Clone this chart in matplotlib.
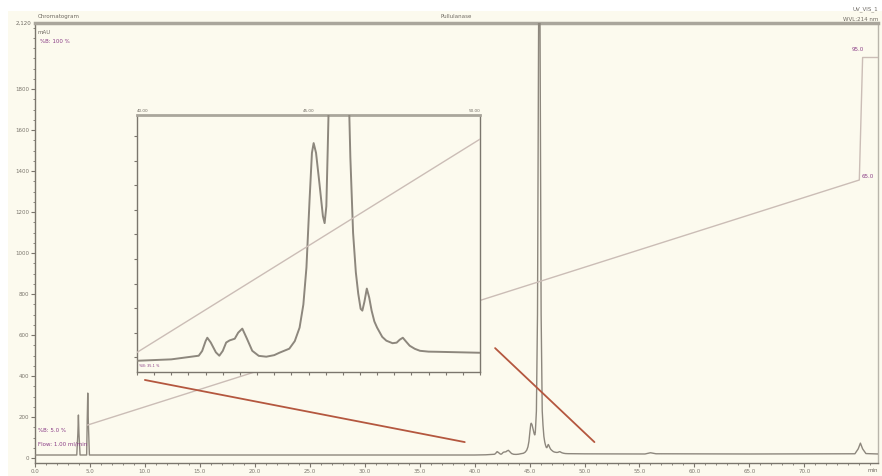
import matplotlib
matplotlib.use("Agg")
import matplotlib.pyplot as plt
import matplotlib.patches as patches
from matplotlib.patches import ConnectionPatch
from matplotlib.ticker import MultipleLocator, FuncFormatter

# --- data ---
time_min = [0.0, 3.8, 3.9, 3.95, 4.0, 4.1, 4.7, 4.75, 4.8, 4.85, 4.95,
            10.0, 20.0, 30.0, 40.0, 41.0, 41.8, 41.9, 42.0, 42.05, 42.15,
            42.3, 42.4, 42.5, 42.6, 42.7, 42.85, 42.95, 43.07, 43.2, 43.36,
            43.55, 43.77, 44.0, 44.15, 44.44, 44.6, 44.74, 44.85, 44.94,
            45.03, 45.1, 45.15, 45.22, 45.32, 45.42, 45.47, 45.52, 45.56,
            45.62, 45.72, 45.82, 45.88, 45.95, 46.05, 46.15, 46.22, 46.3,
            46.38, 46.45, 46.52, 46.57, 46.63, 46.7, 46.77, 46.84, 46.92,
            47.0, 47.15, 47.27, 47.45, 47.57, 47.66, 47.75, 47.85, 47.95,
            48.1, 48.25, 48.5, 48.74, 50.0, 55.5, 56.0, 56.5, 65.0, 74.6,
            74.9, 75.1, 75.3, 75.6, 76.7]
signal_mau = [15, 15, 120, 210, 120, 15, 15, 180, 317, 180, 15,
              15, 15, 15, 15, 16, 18.6, 22, 29, 31.4, 28,
              21, 18.6, 22, 28, 29.5, 30.7, 35, 37.9, 31, 22.1,
              18.5, 17.9, 19, 20.7, 23.6, 29, 38.6, 55, 81.4,
              129, 163, 170, 163, 141, 118, 113, 125, 165,
              230, 700, 2100, 2600, 2100, 700, 230, 160, 106,
              78, 62.8, 52, 50.7, 57, 66.4, 60, 50.7, 43,
              38.6, 32, 29.3, 27.5, 27.9, 30, 31.4, 28.5, 25.7,
              23.5, 22.1, 21.5, 21.4, 20.7, 20, 26, 21, 20, 21,
              45, 73, 45, 22, 20]

grad_time = [4.8, 75.0, 75.3, 76.7]
grad_pct_b = [5, 65, 95, 95]

x_ticks = [0, 5, 10, 15, 20, 25, 30, 35, 40, 45, 50, 55, 60, 65, 70]
y_ticks = [0, 200, 400, 600, 800, 1000, 1200, 1400, 1600, 1800]
zoom_range = [40.0, 50.0]

BG = "#fcfaee"
TRACE = "#8d877d"
AXC = "#7b766d"
GRAD = "#cbbdb6"
RED = "#b4573f"
PURPLE = "#8a3d86"

W, H = 882, 476
fig = plt.figure(figsize=(W / 100, H / 100), dpi=100, facecolor="white")
fig.add_artist(patches.Rectangle((8 / W, 0), 1, 1 - 11 / H, transform=fig.transFigure,
                                 facecolor=BG, edgecolor="none", zorder=-10))


def px_box(l, t, r, b):
    return [l / W, 1 - b / H, (r - l) / W, (b - t) / H]


# --- main chromatogram ---
ax = fig.add_axes(px_box(35, 23, 878, 463))
ax.set_facecolor(BG)
ax.plot(time_min, signal_mau, color=TRACE, lw=1.0, zorder=3)
ax.set_xlim(0, 76.7)
ax.set_ylim(-24, 2122)
ax.set_xticks(x_ticks)
ax.xaxis.set_minor_locator(MultipleLocator(1))
ax.set_yticks(y_ticks)
ax.yaxis.set_minor_locator(MultipleLocator(50))
ax.xaxis.set_major_formatter(FuncFormatter(lambda v, p: f"{v:.1f}"))
ax.tick_params(axis="both", colors=AXC, labelsize=4, length=3, width=0.8, pad=1)
ax.tick_params(which="minor", colors=AXC, length=1.5, width=0.6)
for s in ["left", "bottom"]:
    ax.spines[s].set_color(AXC)
    ax.spines[s].set_linewidth(1.0)
ax.spines["top"].set_color("#aaa69c")
ax.spines["top"].set_linewidth(2.5)
ax.spines["right"].set_color("#b9b5ab")
ax.spines["right"].set_linewidth(1.0)

# gradient (%B) on its own scale
axg = ax.twinx()
axg.plot(grad_time, grad_pct_b, color=GRAD, lw=1.0)
axg.set_ylim(-4.31, 103.45)
axg.set_xlim(ax.get_xlim())
axg.axis("off")

# header texts
ax.text(0.003, 1.012, "Chromatogram", transform=ax.transAxes, fontsize=4, color="#6f6a62")
ax.text(-0.004, 1.0, "2,120", transform=ax.transAxes, fontsize=4, color="#6f6a62",
        ha="right", va="center")
ax.text(0.003, 0.985, "mAU", transform=ax.transAxes, fontsize=4, color="#6f6a62", va="top")
ax.text(0.5, 1.012, "Pullulanase", transform=ax.transAxes, fontsize=4, color="#6f6a62",
        ha="center")
ax.text(1.0, 1.028, "UV_VIS_1", transform=ax.transAxes, fontsize=4, color="#6f6a62",
        ha="right")
ax.text(1.0, 1.005, "WVL:214 nm", transform=ax.transAxes, fontsize=4, color="#6f6a62",
        ha="right")
ax.text(0.006, 0.955, "%B: 100 %", transform=ax.transAxes, fontsize=4, color=PURPLE)
ax.text(0.004, 0.07, "%B: 5.0 %", transform=ax.transAxes, fontsize=4, color=PURPLE)
ax.text(0.004, 0.04, "Flow: 1.00 ml/min", transform=ax.transAxes, fontsize=4, color=PURPLE)
axg.text(74.3, 96.5, "95.0", fontsize=4, color=PURPLE)
axg.text(75.2, 65.5, "65.0", fontsize=4, color=PURPLE)
ax.text(1.0, -0.012, "min", transform=ax.transAxes, fontsize=4, color="#6f6a62",
        ha="right", va="top")

# --- zoomed inset ---
axi = fig.add_axes(px_box(137, 115, 480, 372))
axi.set_zorder(5)
axi.set_facecolor(BG)
axi.plot(time_min, signal_mau, color=TRACE, lw=1.4, zorder=3)
axi.set_xlim(zoom_range)
axi.set_ylim(7, 190)
axi.xaxis.set_major_locator(MultipleLocator(0.5))
axi.yaxis.set_major_locator(MultipleLocator(17.5))
axi.tick_params(axis="both", colors=AXC, labelbottom=False, labelleft=False,
                length=2.5, width=0.8)
for s in ["left", "bottom", "right"]:
    axi.spines[s].set_color(AXC)
    axi.spines[s].set_linewidth(1.0)
axi.spines["top"].set_color("#aaa69c")
axi.spines["top"].set_linewidth(2.0)
axi.text(0.0, 1.01, "40.00", transform=axi.transAxes, fontsize=3, color="#6f6a62")
axi.text(0.5, 1.01, "45.00", transform=axi.transAxes, fontsize=3, color="#6f6a62", ha="center")
axi.text(1.0, 1.01, "50.00", transform=axi.transAxes, fontsize=3, color="#6f6a62", ha="right")
axi.text(0.005, 0.02, "%B: 35.1 %", transform=axi.transAxes, fontsize=2.5, color=PURPLE)

axig = axi.twinx()
axig.set_zorder(6)
axig.plot(grad_time, grad_pct_b, color=GRAD, lw=1.0)
axig.set_xlim(zoom_range)
axig.set_ylim(34.3, 44.6)
axig.axis("off")

# lines linking the inset to the zoomed window on the main axis
for start, end_t in [((0.023, -0.031), 39.1), ((1.044, 0.093), 50.9)]:
    con = ConnectionPatch(xyA=start, coordsA=axi.transAxes, xyB=(end_t, 78),
                          coordsB=ax.transData, color=RED, lw=1.3)
    con.set_zorder(10)
    fig.add_artist(con)

fig.savefig("out.png", dpi=100, facecolor="white")
